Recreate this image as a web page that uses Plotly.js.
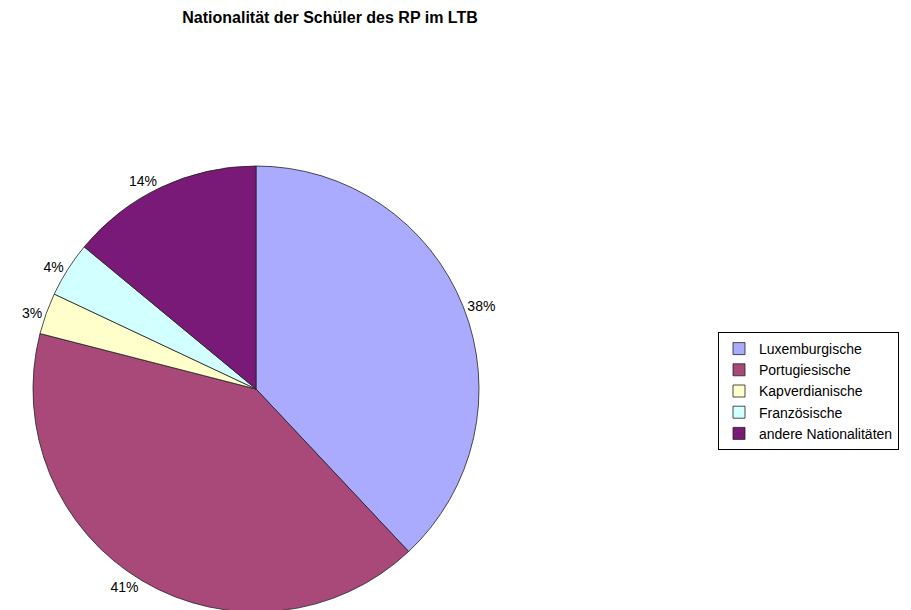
<!DOCTYPE html>
<html>
<head>
<meta charset="utf-8">
<script src="https://cdn.plot.ly/plotly-3.0.1.min.js"></script>
<style>html,body{margin:0;padding:0;overflow:hidden;background:#fff;}#chart{width:911px;height:614px;}</style>
</head>
<body>
<div id="chart"></div>
<script>
const categories = ["Luxemburgische", "Portugiesische", "Kapverdianische", "Französische", "andere Nationalitäten"];
const values = [38, 41, 3, 4, 14];
const colors = ["#AAAAFF", "#A8497A", "#FFFFCC", "#D2FFFF", "#7A1A78"];
const chartTitle = "Nationalität der Schüler des RP im LTB";

const H = 614, W = 911;
const FONT = "Liberation Sans, Arial, sans-serif";
const trace = {
  type: "pie",
  labels: categories,
  values: values,
  sort: false,
  direction: "clockwise",
  rotation: 0,
  marker: {colors: colors, line: {color: "#222", width: 0.8}},
  textinfo: "percent",
  textposition: "outside",
  texttemplate: "%{percent:.0%}",
  textfont: {family: FONT, size: 14, color: "#000"},
  automargin: false,
  hoverinfo: "label+percent",
  domain: {x: [33/W, 479/W], y: [2/H, (H-166)/H]}
};
const layout = {
  width: W, height: H,
  margin: {l: 0, r: 0, t: 0, b: 0},
  paper_bgcolor: "#fff",
  font: {family: FONT, color: "#000"},
  title: {text: "<b>" + chartTitle + "</b>", x: 330/W, xanchor: "center", xref: "paper",
          y: 1 - 17/H, yanchor: "middle", yref: "container",
          font: {size: 16, family: FONT, color: "#000"}},
  showlegend: true,
  legend: {x: 718/W, xanchor: "left", y: (H-332)/H, yanchor: "top",
           bordercolor: "#000", borderwidth: 1, bgcolor: "#fff",
           font: {size: 14, family: FONT, color: "#000"},
           itemwidth: 30, traceorder: "normal"}
};
Plotly.newPlot("chart", [trace], layout, {displayModeBar: false, staticPlot: true});
</script>
</body>
</html>
